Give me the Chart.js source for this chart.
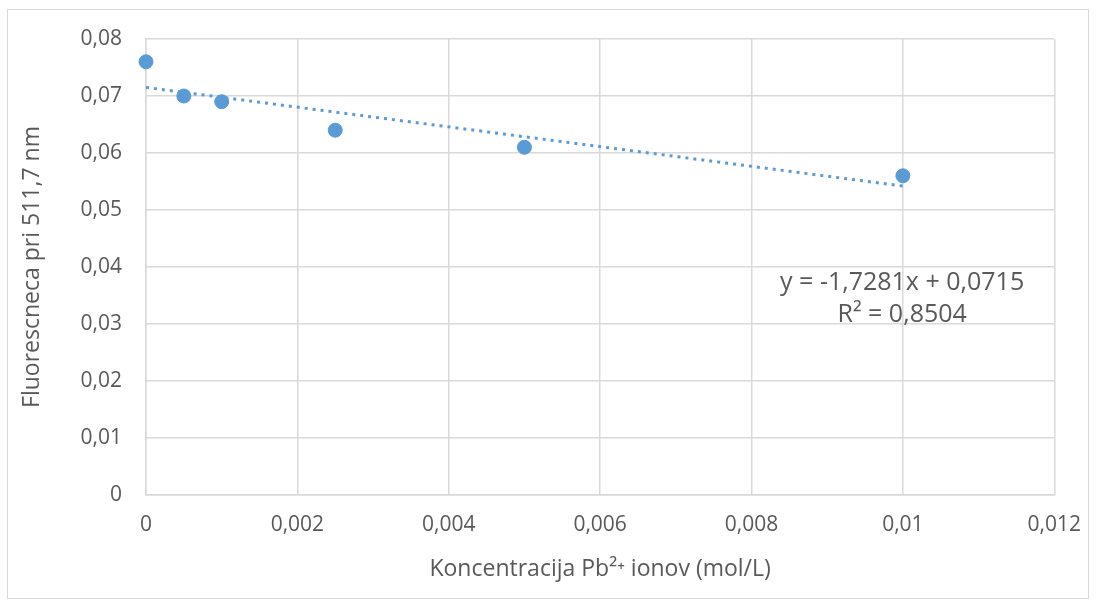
<!DOCTYPE html>
<html>
<head>
<meta charset="utf-8">
<script src="https://cdn.jsdelivr.net/npm/chart.js@4.4.0/dist/chart.umd.min.js"></script>
<style>
  body { margin: 0; background: #fff; }
  #wrap { position: relative; width: 1098px; height: 608px; }
  #frame { position: absolute; left: 7px; top: 9px; width: 1082px; height: 590px; border: 1px solid #d9d9d9; box-sizing: border-box; }
  canvas { position: absolute; left: 0; top: 0; }
</style>
</head>
<body>
<div id="wrap">
  <div id="frame"></div>
  <canvas id="fluoChart" width="1098" height="608"></canvas>
</div>
<script>
  // meritve
  const concentrations = [0, 0.0005, 0.001, 0.0025, 0.005, 0.01];
  const fluorescence = [0.076, 0.070, 0.069, 0.064, 0.061, 0.056];

  // linearni trend (konci premice odčitani s slike)
  const trendX = [0, 0.01];
  const trendY = [0.0715, 0.0542];

  const equationLines = ['y = -1,7281x + 0,0715', 'R² = 0,8504'];

  const textColor = '#595959';
  const gridColor = '#d9d9d9';
  const blue = '#5b9bd5';

  // kot v Excelu: brez odvečnih ničel, decimalna vejica
  const fmt = v => String(parseFloat(v.toFixed(4))).replace('.', ',');

  const equationPlugin = {
    id: 'equation',
    afterDatasetsDraw(chart) {
      const ctx = chart.ctx;
      const xs = chart.scales.x, ys = chart.scales.y;
      ctx.save();
      ctx.font = '25px "Open Sans"';
      ctx.fillStyle = textColor;
      ctx.textAlign = 'center';
      ctx.textBaseline = 'middle';
      const cx = xs.getPixelForValue(0.00999);
      ctx.fillText(equationLines[0], cx, ys.getPixelForValue(0.0373));
      ctx.fillText(equationLines[1], cx, ys.getPixelForValue(0.0316));
      ctx.restore();
    }
  };

  const ctx = document.getElementById('fluoChart').getContext('2d');
  new Chart(ctx, {
    type: 'scatter',
    data: {
      datasets: [{
        label: 'Trend',
        data: trendX.map((x, i) => ({ x: x, y: trendY[i] })),
        showLine: true,
        borderColor: blue,
        borderWidth: 3,
        borderDash: [3, 5],
        pointRadius: 0,
        order: 0
      },
      {
        label: 'Fluorescenca',
        data: concentrations.map((x, i) => ({ x: x, y: fluorescence[i] })),
        backgroundColor: blue,
        borderColor: blue,
        pointRadius: 7,
        clip: false,
        order: 1
      }]
    },
    options: {
      responsive: false,
      animation: false,
      layout: { padding: { top: 39, right: 42, left: 0, bottom: 0 } },
      plugins: {
        legend: { display: false },
        tooltip: { enabled: false }
      },
      scales: {
        x: {
          type: 'linear',
          min: 0,
          max: 0.012,
          afterFit(scale) { scale.height = 113; },
          ticks: {
            stepSize: 0.002,
            padding: 17,
            color: textColor,
            font: { family: 'Open Sans', size: 21 },
            callback: v => fmt(v)
          },
          grid: { color: gridColor, lineWidth: 1.5, drawTicks: false },
          border: { color: gridColor, width: 1.5 },
          title: {
            display: true,
            text: 'Koncentracija Pb²⁺ ionov (mol/L)',
            color: textColor,
            font: { family: 'Open Sans', size: 23 },
            padding: { top: 0, bottom: 25 }
          }
        },
        y: {
          min: 0,
          max: 0.08,
          afterFit(scale) { scale.width = 146; },
          ticks: {
            stepSize: 0.01,
            padding: 24,
            color: textColor,
            font: { family: 'Open Sans', size: 21 },
            callback: v => fmt(v)
          },
          grid: { color: gridColor, lineWidth: 1.5, drawTicks: false },
          border: { color: gridColor, width: 1.5 },
          title: {
            display: true,
            text: 'Fluorescneca pri 511,7 nm',
            color: textColor,
            font: { family: 'Open Sans', size: 23 },
            padding: { top: 19, bottom: 0 }
          }
        }
      }
    },
    plugins: [equationPlugin]
  });
</script>
</body>
</html>
